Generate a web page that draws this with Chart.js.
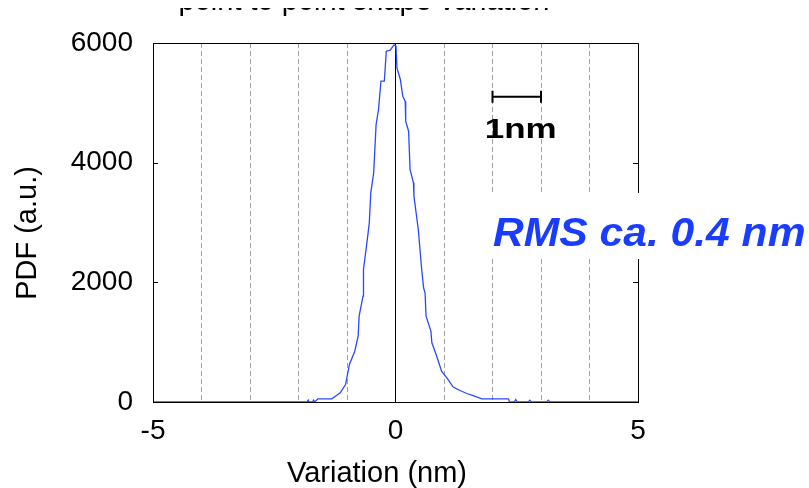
<!DOCTYPE html>
<html>
<head>
<meta charset="utf-8">
<title>point to point shape variation</title>
<script src="https://cdn.jsdelivr.net/npm/chart.js@4.4.1/dist/chart.umd.min.js"></script>
<style>
  body { margin: 0; background: #fff; }
  #wrap { width: 809px; height: 488px; }
</style>
</head>
<body>
<div id="wrap"><canvas id="pdfChart" width="809" height="488"></canvas></div>
<script>
// histogram of the point to point variation
const variationNm = [
  -5, -1.82, -1.80, -1.78, -1.71, -1.69, -1.67, -1.60, -1.31, -1.24,
  -1.14, -1.03, -0.95, -0.84, -0.77, -0.75, -0.67, -0.66, -0.59, -0.54,
  -0.51, -0.45, -0.40, -0.35, -0.30, -0.23, -0.19, -0.11, -0.03, 0.01,
  0.03, 0.10, 0.15, 0.20, 0.21, 0.27, 0.30, 0.37, 0.38, 0.47,
  0.54, 0.58, 0.61, 0.63, 0.73, 0.75, 0.85, 0.95, 1.06, 1.19,
  1.33, 1.47, 1.60, 1.78, 2.33, 2.35, 2.45, 2.48, 2.51, 2.74,
  2.77, 2.80, 3.12, 3.15, 3.18, 5
];
const pdfValues = [
  0, 0, 30, 0, 0, 30, 0, 53, 53, 97,
  153, 292, 627, 849, 1100, 1434, 1768, 2214, 2660, 2994,
  3496, 3830, 4637, 4888, 5362, 5362, 5863, 5880, 5970, 5950,
  5585, 5390, 5111, 5028, 4693, 4526, 3886, 3663, 3440, 2883,
  2214, 1908, 1820, 1434, 1184, 990, 765, 515, 404, 250,
  192, 142, 105, 53, 53, 0, 0, 40, 0, 0,
  30, 0, 0, 30, 0, 0
];

// vertical line at zero
const zeroLineX = [0, 0];
const zeroLineY = [0, 6000];

const xTickLabels = ["-5", "0", "5"];
const yTickValues = [0, 2000, 4000, 6000];

// 1 nm scale bar
const scaleBarX = [2, 3];
const scaleBarY = 5100;

const chartTitle = "point to point shape variation";
const xTitle = "Variation (nm)";
const yTitle = "PDF (a.u.)";
const scaleBarLabel = "1nm";
const rmsLabel = "RMS ca. 0.4 nm";

const FONT = "'Liberation Sans', Arial, Helvetica, sans-serif";
const BLUE = "#2a48ff";


// frame, inward ticks, titles and the text notes
const decorations = {
  id: "decorations",
  afterDraw(chart) {
    const ctx = chart.ctx;
    const area = chart.chartArea;
    const xs = chart.scales.x;
    const ys = chart.scales.y;

    ctx.save();
    ctx.strokeStyle = "#000";
    ctx.lineWidth = 1;

    // left, top and right side of the box
    ctx.beginPath();
    ctx.moveTo(area.left + 0.5, area.bottom);
    ctx.lineTo(area.left + 0.5, area.top + 0.5);
    ctx.lineTo(area.right + 0.5, area.top + 0.5);
    ctx.lineTo(area.right + 0.5, area.bottom);
    ctx.stroke();

    yTickValues.forEach(v => {
      const py = Math.round(ys.getPixelForValue(v)) + 0.5;
      ctx.beginPath();
      ctx.moveTo(area.left, py);
      ctx.lineTo(area.left + 5, py);
      ctx.moveTo(area.right, py);
      ctx.lineTo(area.right - 5, py);
      ctx.stroke();
    });

    // scale bar
    const bx1 = xs.getPixelForValue(scaleBarX[0]);
    const bx2 = xs.getPixelForValue(scaleBarX[1]);
    const by = ys.getPixelForValue(scaleBarY);
    ctx.lineWidth = 2;
    ctx.beginPath();
    ctx.moveTo(bx1, by);
    ctx.lineTo(bx2, by);
    ctx.moveTo(bx1, by - 6);
    ctx.lineTo(bx1, by + 6);
    ctx.moveTo(bx2, by - 6);
    ctx.lineTo(bx2, by + 6);
    ctx.stroke();

    ctx.fillStyle = "#000";
    ctx.textAlign = "center";
    ctx.textBaseline = "alphabetic";
    ctx.save();
    ctx.translate((bx1 + bx2) / 2 + 4, 138);
    ctx.scale(1.25, 1);
    ctx.font = "bold 28px " + FONT;
    ctx.fillText(scaleBarLabel, 0, 0);
    ctx.restore();

    // RMS note on a white box over the right edge
    ctx.fillStyle = "#fff";
    ctx.fillRect(488, 193, 321, 66);
    ctx.fillStyle = "#1a3cff";
    ctx.textAlign = "left";
    ctx.save();
    ctx.translate(493, 246);
    ctx.scale(1.065, 1);
    ctx.font = "italic bold 40px " + FONT;
    ctx.fillText(rmsLabel, 0, 0);
    ctx.restore();

    // axis titles
    ctx.fillStyle = "#000";
    ctx.font = "29px " + FONT;
    ctx.textAlign = "center";
    ctx.fillText(xTitle, 377, 482);

    ctx.save();
    ctx.translate(36, 233);
    ctx.rotate(-Math.PI / 2);
    ctx.fillText(yTitle, 0, 0);
    ctx.restore();

    // title, only its lower edge shows in the picture
    ctx.fillText(chartTitle, 364, 10);
    ctx.fillStyle = "#fff";
    ctx.fillRect(0, 0, chart.width, 8);

    ctx.restore();
  }
};


const ctx = document.getElementById("pdfChart").getContext("2d");

new Chart(ctx, {
  type: "scatter",
  data: {
    datasets: [
      {
        data: variationNm.map((v, i) => ({ x: v, y: pdfValues[i] })),
        showLine: true,
        borderColor: BLUE,
        borderWidth: 1.3,
        pointRadius: 0,
        tension: 0
      },
      {
        data: zeroLineX.map((v, i) => ({ x: v, y: zeroLineY[i] })),
        showLine: true,
        borderColor: "#000",
        borderWidth: 1,
        pointRadius: 0
      }
    ]
  },
  options: {
    responsive: false,
    animation: false,
    layout: {
      padding: { left: 0, right: 171, top: 43, bottom: 0 }
    },
    plugins: {
      legend: { display: false },
      tooltip: { enabled: false },
      title: { display: false }
    },
    scales: {
      x: {
        type: "linear",
        min: -5,
        max: 5,
        afterFit: scale => { scale.height = 86; },
        ticks: {
          stepSize: 1,
          autoSkip: false,
          maxRotation: 0,
          padding: 12,
          color: "#000",
          font: { family: FONT, size: 28 },
          callback: v => xTickLabels.includes(String(v)) ? String(v) : ""
        },
        grid: {
          color: "#a0a0a0",
          lineWidth: 1,
          drawTicks: false
        },
        border: { display: true, color: "#000", width: 1, dash: [5, 3] }
      },
      y: {
        min: 0,
        max: 6000,
        afterFit: scale => { scale.width = 153; },
        ticks: {
          stepSize: 2000,
          padding: 20,
          color: "#000",
          font: { family: FONT, size: 28 },
          callback: v => String(v)
        },
        grid: { display: false, drawTicks: false },
        border: { display: true, color: "#000", width: 1 }
      }
    }
  },
  plugins: [decorations]
});
</script>
</body>
</html>
